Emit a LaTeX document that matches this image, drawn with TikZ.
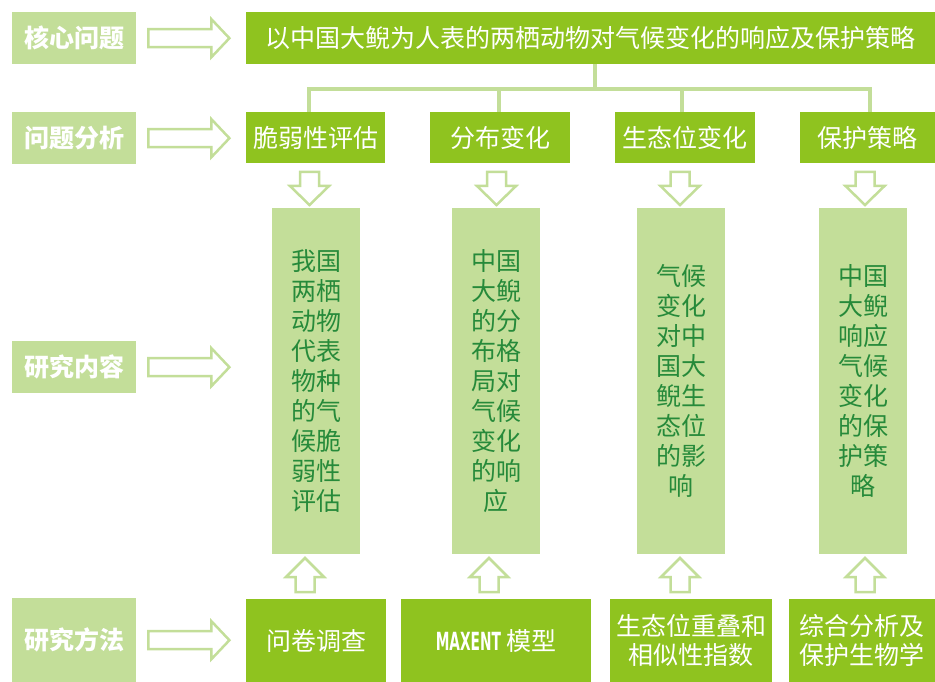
\documentclass[tikz,border=0pt]{standalone}
\usepackage{graphicx}
\usepackage{fontspec}
\setmainfont{Noto Sans CJK SC}
\newfontfamily\mxfont{DejaVu Sans}
\definecolor{dkg}{RGB}{143,195,31}
\definecolor{ltg}{RGB}{195,222,153}
\definecolor{colg}{RGB}{38,138,58}
\tikzset{
  pics/rarrow/.style={code={\draw[barrow] (0,-9) -- (63,-9) -- (63,-19) -- (81,0) -- (63,19) -- (63,9) -- (0,9) -- cycle;}},
  pics/darrow/.style={code={\draw[barrow] (-9.5,0) -- (9.5,0) -- (9.5,14) -- (19.5,14) -- (0,33) -- (-19.5,14) -- (-9.5,14) -- cycle;}},
  pics/uarrow/.style={code={\draw[barrow] (-9.5,0) -- (9.5,0) -- (9.5,-15) -- (19,-15) -- (0,-34) -- (-19,-15) -- (-9.5,-15) -- cycle;}}
}
\begin{document}
\begin{tikzpicture}[x=1pt,y=-1pt,
  dark/.style={fill=dkg, text=white, inner sep=0pt, font=\fontsize{25}{29}\selectfont, align=center, anchor=north west},
  lab/.style={fill=ltg, text=white, inner sep=0pt, font=\fontsize{25}{30}\selectfont\bfseries, minimum width=124pt, minimum height=52pt, anchor=north west},
  colbox/.style={fill=ltg, text=colg, inner sep=0pt, font=\fontsize{25}{30}\selectfont, align=center, minimum width=88pt, minimum height=346pt, anchor=north west},
  link/.style={draw=ltg, line width=3.5pt},
  barrow/.style={draw=ltg, fill=white, line width=2.5pt, line join=miter}
]
\useasboundingbox (0,0) rectangle (935,682);

% left labels
\node[lab] (l1) at (12,12) {核心问题};
\node[lab] (l2) at (12,112) {问题分析};
\node[lab] (l3) at (12,341) {研究内容};
\node[lab, minimum height=84pt] (l4) at (12,598) {研究方法};

% core question
\node[dark, minimum width=689pt, minimum height=52pt] (core) at (246,12) {以中国大鲵为人表的两栖动物对气候变化的响应及保护策略};

% analysis row
\node[dark, minimum width=139pt, minimum height=51pt] (a1) at (246,112) {脆弱性评估};
\node[dark, minimum width=140pt, minimum height=51pt] (a2) at (430,112) {分布变化};
\node[dark, minimum width=140pt, minimum height=51pt] (a3) at (615,112) {生态位变化};
\node[dark, minimum width=135pt, minimum height=51pt] (a4) at (800,112) {保护策略};

% content columns
\node[colbox] (c1) at (272,208) {我国\\两栖\\动物\\代表\\物种\\的气\\候脆\\弱性\\评估};
\node[colbox] (c2) at (452,208) {中国\\大鲵\\的分\\布格\\局对\\气候\\变化\\的响\\应};
\node[colbox] (c3) at (637,208) {气候\\变化\\对中\\国大\\鲵生\\态位\\的影\\响};
\node[colbox] (c4) at (819,208) {中国\\大鲵\\响应\\气候\\变化\\的保\\护策\\略};

% method row
\node[dark, minimum width=140pt, minimum height=83pt] (b1) at (246,599) {问卷调查};
\node[dark, minimum width=190pt, minimum height=83pt] (b2) at (401,599) {{\mxfont\bfseries\scalebox{0.55}[1]{MAXENT}} 模型};
\node[dark, minimum width=162pt, minimum height=83pt] (b3) at (610,599) {生态位重叠和\\相似性指数};
\node[dark, minimum width=146pt, minimum height=83pt] (b4) at (789,599) {综合分析及\\保护生物学};

% tree connector
\coordinate (hub) at (595,89);
\coordinate (d1) at (309,89);
\coordinate (d2) at (499,89);
\coordinate (d3) at (682,89);
\coordinate (d4) at (870,89);
\draw[link] (core.south -| hub) -- (hub);
\draw[link] (d1 |- a1.north) -- (d1) -- (d4) -- (d4 |- a4.north);
\draw[link] (d2) -- (d2 |- a2.north);
\draw[link] (d3) -- (d3 |- a3.north);

% block arrows: labels to rows
\pic at ([xshift=12pt]l1.east) {rarrow};
\pic at ([xshift=12pt]l2.east) {rarrow};
\pic at ([xshift=12pt]l3.east) {rarrow};
\pic at ([xshift=12pt]l4.east) {rarrow};

% down arrows
\pic at (309.5,172) {darrow};
\pic at (496.5,172) {darrow};
\pic at (680,172) {darrow};
\pic at (865,172) {darrow};

% up arrows
\pic at (305,592) {uarrow};
\pic at (489,592) {uarrow};
\pic at (680,592) {uarrow};
\pic at (865,592) {uarrow};
\end{tikzpicture}
\end{document}
